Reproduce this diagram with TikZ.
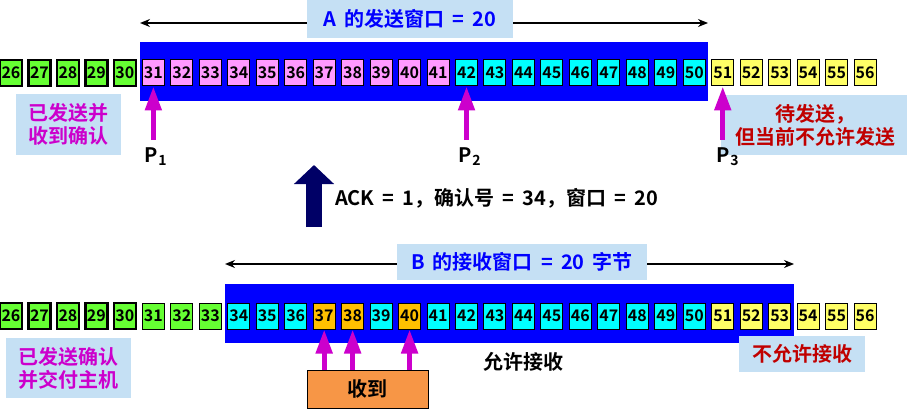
\documentclass[tikz,border=0pt]{standalone}
\usepackage{fontspec}
\setmainfont{Noto Sans CJK SC}[BoldFont={Noto Sans CJK SC Bold}, WordSpace=1.8]
\usetikzlibrary{arrows.meta,positioning}
\definecolor{winblue}{RGB}{0,0,255}
\definecolor{tagblue}{RGB}{197,224,244}
\definecolor{cgreen}{RGB}{102,255,51}
\definecolor{cpink}{RGB}{255,153,255}
\definecolor{ccyan}{RGB}{0,255,255}
\definecolor{cyellow}{RGB}{255,255,102}
\definecolor{corange}{RGB}{255,192,0}
\definecolor{gotorange}{RGB}{247,150,70}
\definecolor{pmag}{RGB}{204,0,204}
\definecolor{tagred}{RGB}{192,0,0}
\definecolor{acknavy}{RGB}{0,0,102}

\begin{document}
\begin{tikzpicture}[x=1pt, y=-1pt,
  cell/.style={draw=black, line width=1pt, minimum width=22pt, minimum height=26pt,
    inner sep=0pt, font=\bfseries\fontsize{16}{16}\selectfont},
  done/.style={cell, fill=cgreen, line width=2.5pt},
  win/.style={fill=winblue},
  tag/.style={fill=tagblue, inner sep=0pt, align=center,
    font=\bfseries\fontsize{20}{23}\selectfont},
  span/.style={black, line width=1.5pt, {Stealth[length=10pt,width=8pt]}-{Stealth[length=10pt,width=8pt]}},
  parrow/.style={pmag, line width=5pt, -{Triangle[width=16pt,length=24pt]}},
  plab/.style={inner sep=0pt, anchor=north, font=\bfseries\fontsize{20}{20}\selectfont},
  txt/.style={inner sep=0pt, font=\bfseries\fontsize{20}{20}\selectfont}]
\useasboundingbox (0,0) rectangle (907,409);
% ---- A: send window ----
\fill[win] (140,42) rectangle (708,101);
\coordinate (al) at (140,23);
\coordinate (ar) at (708,23);
\draw[span] (al) -- (ar);
\node[tag, minimum width=206pt, minimum height=38pt, text=winblue] (awin) at (410,19)
  {A 的发送窗口 = 20};
% sender bytes
\foreach \n in {26,...,30} \node[done] (a\n) at ({11+(\n-26)*28.47},73) {\n};
\foreach \n in {31,...,41} \node[cell, fill=cpink] (a\n) at ({11+(\n-26)*28.47},73) {\n};
\foreach \n in {42,...,50} \node[cell, fill=ccyan] (a\n) at ({11+(\n-26)*28.47},73) {\n};
\foreach \n in {51,...,56} \node[cell, fill=cyellow] (a\n) at ({11+(\n-26)*28.47},73) {\n};
\node[tag, minimum width=105pt, minimum height=61pt, text=pmag] (acked) at (68.5,124.5)
  {已发送并\\收到确认};
\node[tag, minimum width=186pt, minimum height=60pt, text=tagred, anchor=west] (wait) at (721,125)
  {\hspace*{2pt}待发送，\\\hspace*{2pt}但当前不允许发送};
% pointers
\node[plab] (p1) at (156,147) {P\textsubscript{1}};
\node[plab] (p2) at (470,147) {P\textsubscript{2}};
\node[plab] (p3) at (728,147) {P\textsubscript{3}};
\draw[parrow, shorten <=7pt] (a31.south |- p1.north) -- (a31.south);
\draw[parrow, shorten <=7pt] (a42.south |- p2.north) -- (a42.south);
\draw[parrow, shorten <=7pt] (a51.south |- p3.north) -- (a51.south);
% ---- ACK from B ----
\coordinate (ackfoot) at (314,227);
\coordinate (acktip) at (314,165);
\draw[acknavy, line width=16pt, -{Triangle[width=39pt,length=19pt]}] (ackfoot) -- (acktip);
\node[txt, anchor=west] (ack) at (335,198) {ACK = 1，确认号 = 34，窗口 = 20};
% ---- B: receive window ----
\fill[win] (225,284) rectangle (794,343);
\coordinate (bl) at (225,264);
\coordinate (br) at (794,264);
\draw[span] (bl) -- (br);
\node[tag, minimum width=250pt, minimum height=36pt, text=winblue] (bwin) at (522,262)
  {B 的接收窗口 = 20 字节};
% receiver bytes
\foreach \n in {26,...,30} \node[done] (b\n) at ({11+(\n-26)*28.47},316) {\n};
\foreach \n in {31,...,33} \node[cell, fill=cgreen] (b\n) at ({11+(\n-26)*28.47},316) {\n};
\foreach \n in {34,35,36,39,41,42,43,44,45,46,47,48,49,50}
  \node[cell, fill=ccyan] (b\n) at ({11+(\n-26)*28.47},316) {\n};
\foreach \n in {37,38,40} \node[cell, fill=corange] (b\n) at ({11+(\n-26)*28.47},316) {\n};
\foreach \n in {51,...,56} \node[cell, fill=cyellow] (b\n) at ({11+(\n-26)*28.47},316) {\n};
\node[tag, minimum width=125pt, minimum height=60pt, text=pmag] (deliv) at (68.5,368)
  {已发送确认\\并交付主机};
\node[tag, minimum width=126pt, minimum height=36pt, text=tagred] (nogo) at (802,354)
  {不允许接收};
\node[txt] (okgo) at (523,362) {允许接收};
% received out of order
\node[draw=black, line width=1pt, fill=gotorange, minimum width=121pt, minimum height=38pt,
  inner sep=0pt, font=\bfseries\fontsize{20}{20}\selectfont] (got) at (367.5,389) {收到};
\foreach \n in {37,38,40}
  \draw[parrow] (b\n.south |- got.north) -- (b\n.south);
\end{tikzpicture}
\end{document}
